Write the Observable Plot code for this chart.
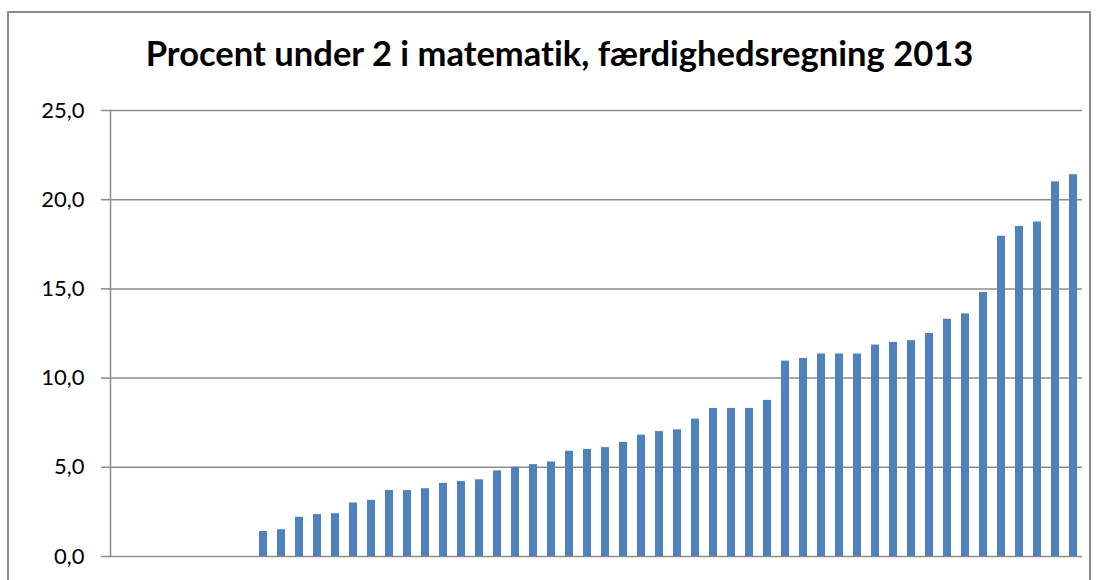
<!DOCTYPE html>
<html><head><meta charset="utf-8">
<script src="https://cdn.jsdelivr.net/npm/d3@7"></script>
<script src="https://cdn.jsdelivr.net/npm/@observablehq/plot@0.6"></script>
<style>
body{margin:0;background:#fff;}
#wrap{position:relative;width:1099px;height:580px;overflow:hidden;background:#fff;}
#border{position:absolute;left:7px;top:11px;width:1084px;height:640px;border:2px solid #8c8c8c;box-sizing:border-box;}
#chart{position:absolute;left:0;top:0;}
svg text{font-variant-ligatures:none;}
</style></head>
<body><div id="wrap"><div id="border"></div><div id="chart"></div></div>
<script>
const title = "Procent under 2 i matematik, færdighedsregning 2013";
const categories = ["1","2","3","4","5","6","7","8","9","10","11","12","13","14","15","16","17","18","19","20","21","22","23","24","25","26","27","28","29","30","31","32","33","34","35","36","37","38","39","40","41","42","43","44","45","46","47","48","49","50","51","52","53","54"];
const values = [0,0,0,0,0,0,0,0,
  1.4,1.5,2.2,2.35,2.4,3.0,3.15,3.7,3.7,3.8,
  4.1,4.2,4.3,4.8,5.0,5.15,5.3,5.9,6.0,6.1,
  6.4,6.8,7.0,7.1,7.7,8.3,8.3,8.3,8.75,10.95,
  11.1,11.35,11.35,11.35,11.85,12.0,12.1,12.5,13.3,13.6,
  14.8,17.95,18.5,18.75,21.0,21.4];
const yTicks = [0,5,10,15,20,25];
const yTickLabels = ["0,0","5,0","10,0","15,0","20,0","25,0"];

const data = categories.map((c,i)=>({cat:c, value:values[i]}));
const grid = "#8c8c8c";

const chart = Plot.plot({
  width:1099, height:580,
  marginLeft:110, marginRight:17, marginTop:110, marginBottom:24,
  style:{fontFamily:"Lato, 'Open Sans', sans-serif", fontSize:"22px", color:"#000", background:"transparent", overflow:"visible"},
  x:{domain:categories, paddingInner:0.58, paddingOuter:0.29, axis:null},
  y:{domain:[0,25], axis:null},
  marks:[
    Plot.ruleY(yTicks, {stroke:grid, strokeWidth:1.5, strokeOpacity:1}),
    Plot.axisY(yTicks, {tickSize:9, tickPadding:17, tickFormat:d=>yTickLabels[yTicks.indexOf(d)], stroke:grid, strokeWidth:1.5, strokeOpacity:1, fontSize:22, fill:"#000", label:null}),
    Plot.frame({anchor:"left", stroke:grid, strokeWidth:1.5, strokeOpacity:1}),
    Plot.barY(data, {x:"cat", y:"value", fill:"#4F81BD"}),
    Plot.text([title], {frameAnchor:"top-left", dx:449, dy:-56, text:d=>d, textAnchor:"middle", lineAnchor:"middle", fontSize:28, fontWeight:"bold", fill:"#000"})
  ]
});
document.getElementById("chart").appendChild(chart);
// fit title width to reference (~828px)
const t = d3.select(chart).selectAll("text").filter(function(){return this.textContent===title;});
t.each(function(){
  const w = this.getComputedTextLength();
  if (w>0){ const fs = 28*828/w; d3.select(this).attr("font-size", fs); }
});
</script></body></html>
